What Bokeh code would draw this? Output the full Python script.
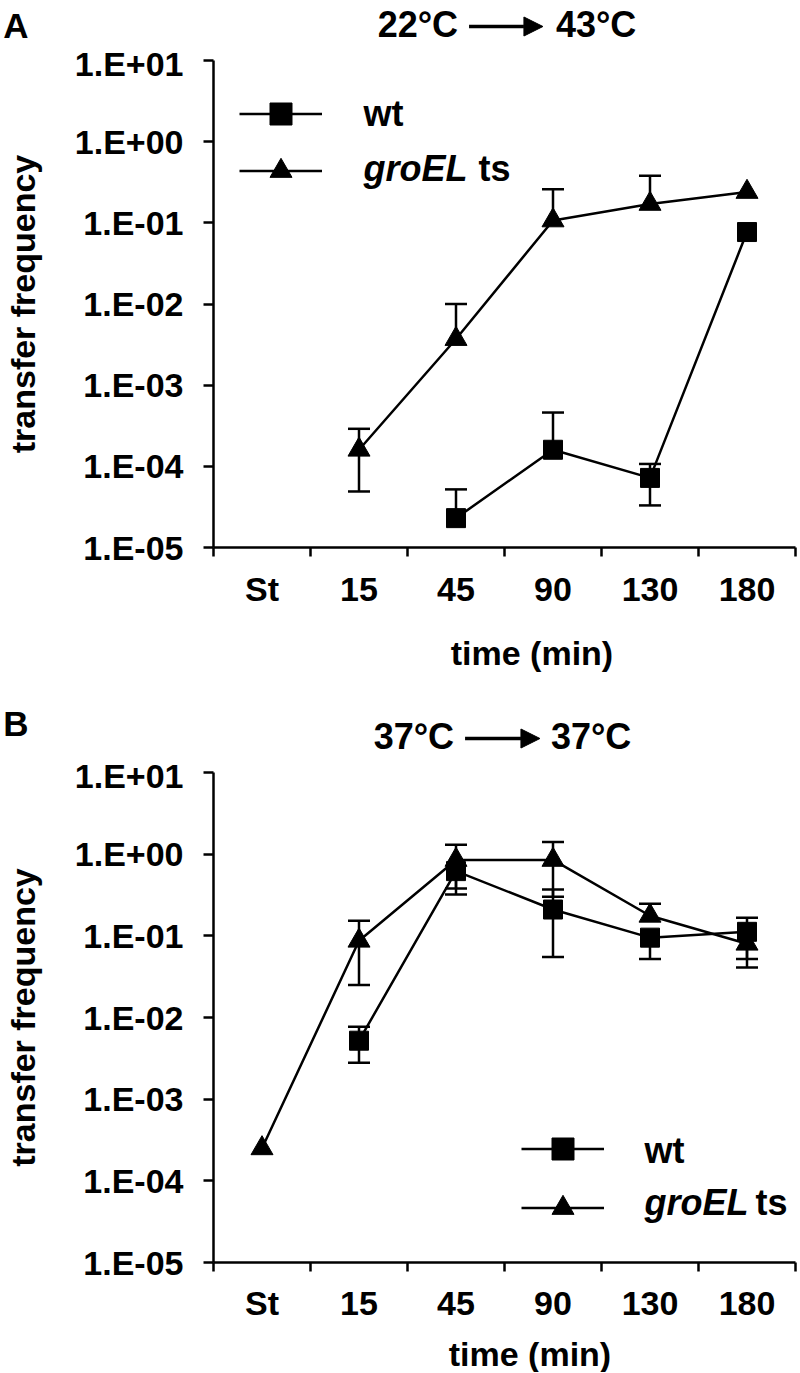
import numpy as np
from bokeh.plotting import figure
from bokeh.models import (ColumnDataSource, Range1d, FactorRange, LinearAxis, LogAxis, FixedTicker,
                          CustomJSTickFormatter, Whisker, TeeHead, Legend, LegendItem, Label, Arrow, NormalHead)
from bokeh.layouts import column
from bokeh.embed import file_html
from bokeh.resources import INLINE

nan = float("nan")

# ---------------- data ----------------
categories = ["St", "15", "45", "90", "130", "180"]
ytick_values = [1e-5, 1e-4, 1e-3, 1e-2, 1e-1, 1e0, 1e1]
ytick_labels = ["1.E-05", "1.E-04", "1.E-03", "1.E-02", "1.E-01", "1.E+00", "1.E+01"]
series_names = ["wt", "groEL", "ts"]

# Panel A: 22°C -> 43°C
a_wt = [nan, nan, 2.3e-5, 1.6e-4, 7.2e-5, 7.7e-2]
a_wt_hi = [nan, nan, 5.2e-5, 4.6e-4, 1.07e-4, nan]
a_wt_lo = [nan, nan, nan, nan, 3.3e-5, nan]
a_gro = [nan, 1.6e-4, 3.7e-3, 0.107, 0.171, 0.24]
a_gro_hi = [nan, 2.9e-4, 1.0e-2, 0.26, 0.38, nan]
a_gro_lo = [nan, 4.9e-5, nan, nan, nan, nan]

# Panel B: 37°C -> 37°C
b_wt = [nan, 5.2e-3, 0.62, 0.21, 0.095, 0.112]
b_wt_hi = [nan, 7.7e-3, nan, 0.37, nan, 0.166]
b_wt_lo = [nan, 2.8e-3, 0.38, 0.055, 0.052, 0.052]
b_gro = [2.5e-4, 0.087, 0.85, 0.85, 0.176, 0.080]
b_gro_hi = [nan, 0.153, 1.30, 1.41, 0.247, nan]
b_gro_lo = [nan, 0.025, 0.32, 0.30, nan, 0.041]

FONT = "Liberation Sans"
FS = "34px"
LW = 2.5
W = 800
FRAME_LEFT = 212
FRAME_RIGHT = 795


def strip_fig(h):
    # text strip whose data coordinates equal page pixels (x) and pixels from the strip top (y)
    f = figure(width=W, height=h, x_range=Range1d(FRAME_LEFT, FRAME_RIGHT), y_range=Range1d(h, 0),
               x_axis_location=None, y_axis_location=None,
               min_border_left=FRAME_LEFT, min_border_right=W - FRAME_RIGHT, min_border_top=0, min_border_bottom=0,
               output_backend="svg", toolbar_location=None)
    f.outline_line_color = None
    f.xgrid.grid_line_color = None
    f.ygrid.grid_line_color = None
    return f


def text(f, s, x, y, size, align="left", style="bold"):
    f.add_layout(Label(x=x, y=y, text=s, text_font=FONT, text_font_size=size, text_font_style=style,
                       text_color="black", text_align=align, text_baseline="middle"))


def header(h, letter, letter_y, t_from, t_to, title_y, arrow_y, a0, a1):
    f = strip_fig(h)
    # panel letter sits in the left margin
    lax = LinearAxis(ticker=FixedTicker(ticks=[letter_y], minor_ticks=[]),
                     formatter=CustomJSTickFormatter(args=dict(t=letter), code="return t;"))
    lax.axis_line_color = None
    lax.major_tick_line_color = None
    lax.minor_tick_line_color = None
    lax.major_tick_out = 0
    lax.major_tick_in = 0
    lax.major_label_standoff = 185
    lax.major_label_text_font = FONT
    lax.major_label_text_font_size = "35px"
    lax.major_label_text_font_style = "bold"
    lax.major_label_text_color = "black"
    f.add_layout(lax, "left")
    text(f, t_from[0], t_from[1], title_y, "36px", align="right")
    text(f, t_to[0], t_to[1], title_y, "36px", align="left")
    f.add_layout(Arrow(x_start=a0, y_start=arrow_y, x_end=a1, y_end=arrow_y,
                       line_width=3.5, line_color="black", start=None,
                       end=NormalHead(size=19, fill_color="black", line_color="black", line_width=1)))
    return f


def footer(h, x, y):
    f = strip_fig(h)
    text(f, "time (min)", x, y, FS, align="center")
    return f


def add_err(p, vals, ends, upper_side):
    rows = [(c, v, e) for c, v, e in zip(categories, vals, ends) if not np.isnan(e) and not np.isnan(v)]
    if not rows:
        return
    xs = [r[0] for r in rows]
    vs = [r[1] for r in rows]
    es = [r[2] for r in rows]
    head = TeeHead(size=22, line_width=LW, line_color="black")
    if upper_side:
        w = Whisker(source=ColumnDataSource(dict(x=xs, lower=vs, upper=es)), base="x", lower="lower",
                    upper="upper", upper_head=head, lower_head=None, line_width=LW, line_color="black")
    else:
        w = Whisker(source=ColumnDataSource(dict(x=xs, lower=es, upper=vs)), base="x", lower="lower",
                    upper="upper", lower_head=head, upper_head=None, line_width=LW, line_color="black")
    p.add_layout(w)


def make_panel(height, border_top, frame_h, frame_bottom_page, x_standoff,
               wt, wt_hi, wt_lo, gro, gro_hi, gro_lo, leg_left, leg_bottom, leg_spacing,
               wt_y, gro_y, leg_text_x, ts_x):
    n = len(categories)
    p = figure(width=W, height=height,
               x_range=FactorRange(factors=categories, range_padding=0, factor_padding=0),
               y_range=Range1d(1e-5, 1e1), y_axis_type="log",
               x_axis_location=None, y_axis_location=None,
               output_backend="svg", toolbar_location=None,
               min_border_left=FRAME_LEFT, min_border_right=W - FRAME_RIGHT,
               min_border_top=border_top, min_border_bottom=height - border_top - frame_h)
    p.outline_line_color = None
    p.xgrid.grid_line_color = None
    p.ygrid.grid_line_color = None

    def sx(px):
        return px - FRAME_LEFT

    def sy(py):
        return frame_bottom_page - py

    yaxis = LogAxis(ticker=FixedTicker(ticks=ytick_values, minor_ticks=[]),
                    formatter=CustomJSTickFormatter(args=dict(vals=ytick_values, labs=ytick_labels), code="""
                        for (let i = 0; i < vals.length; i++) {
                            if (Math.abs(Math.log10(tick) - Math.log10(vals[i])) < 1e-6) return labs[i];
                        }
                        return '';"""),
                    axis_label="transfer frequency")
    yaxis.axis_line_width = LW
    yaxis.axis_line_color = "black"
    yaxis.major_tick_out = 10
    yaxis.major_tick_in = 0
    yaxis.major_tick_line_width = LW
    yaxis.major_tick_line_color = "black"
    yaxis.minor_tick_line_color = None
    yaxis.major_label_text_font = FONT
    yaxis.major_label_text_font_size = FS
    yaxis.major_label_text_font_style = "bold"
    yaxis.major_label_text_color = "black"
    yaxis.major_label_standoff = 20
    yaxis.axis_label_text_font = FONT
    yaxis.axis_label_text_font_size = FS
    yaxis.axis_label_text_font_style = "bold"
    yaxis.axis_label_text_color = "black"
    yaxis.axis_label_standoff = 30
    p.add_layout(yaxis, "left")

    # category labels at centres, tick marks at the category boundaries
    xaxis = LinearAxis(ticker=FixedTicker(ticks=[i + 0.5 for i in range(n)], minor_ticks=list(range(n + 1))),
                       formatter=CustomJSTickFormatter(args=dict(cats=categories),
                                                       code="return cats[Math.floor(tick)];"))
    xaxis.axis_line_width = LW
    xaxis.axis_line_color = "black"
    xaxis.major_tick_line_color = None
    xaxis.major_tick_out = 0
    xaxis.major_tick_in = 0
    xaxis.minor_tick_out = 9
    xaxis.minor_tick_in = 0
    xaxis.minor_tick_line_width = LW
    xaxis.minor_tick_line_color = "black"
    xaxis.major_label_text_font = FONT
    xaxis.major_label_text_font_size = FS
    xaxis.major_label_text_font_style = "bold"
    xaxis.major_label_text_color = "black"
    xaxis.major_label_standoff = x_standoff
    p.add_layout(xaxis, "below")

    add_err(p, wt, wt_hi, True)
    add_err(p, wt, wt_lo, False)
    add_err(p, gro, gro_hi, True)
    add_err(p, gro, gro_lo, False)

    src = ColumnDataSource(dict(x=categories, wt=wt, gro=gro))
    l_wt = p.line("x", "wt", source=src, line_width=LW, line_color="black")
    m_wt = p.scatter("x", "wt", source=src, marker="square", size=19, fill_color="black", line_color="black")
    l_gro = p.line("x", "gro", source=src, line_width=LW, line_color="black")
    m_gro = p.scatter("x", "gro", source=src, marker="triangle", size=22, fill_color="black", line_color="black")

    legend = Legend(items=[LegendItem(label=" ", renderers=[l_wt, m_wt]),
                           LegendItem(label=" ", renderers=[l_gro, m_gro])],
                    location=(sx(leg_left), sy(leg_bottom)),
                    glyph_width=83, glyph_height=55, spacing=leg_spacing, padding=0, margin=0,
                    label_standoff=0, label_width=0, label_height=0, label_text_font_size="1px",
                    border_line_color=None, background_fill_alpha=0)
    p.add_layout(legend)

    def lab(s, x, y, style="bold"):
        p.add_layout(Label(x=x, y=y, x_units="screen", y_units="screen", text=s,
                           text_font=FONT, text_font_size="36px", text_font_style=style,
                           text_color="black", text_align="left", text_baseline="middle"))

    lab(series_names[0], sx(leg_text_x), sy(wt_y))
    lab(series_names[1], sx(leg_text_x), sy(gro_y), style="bold italic")
    lab(series_names[2], sx(ts_x), sy(gro_y))
    return p


# page rows: header A 0-44, plot A 44-618, footer A 618-698, header B 698-756, plot B 756-1330, footer B 1330-1372
hA = header(44, "A", 14, ("22°C", 457), ("43°C", 555), 24, 26, 468, 542)
pA = make_panel(height=574, border_top=16, frame_h=487, frame_bottom_page=547, x_standoff=13,
                wt=a_wt, wt_hi=a_wt_hi, wt_lo=a_wt_lo, gro=a_gro, gro_hi=a_gro_hi, gro_lo=a_gro_lo,
                leg_left=238, leg_bottom=198, leg_spacing=2,
                wt_y=112.5, gro_y=168, leg_text_x=362, ts_x=477)
fA = footer(80, 531, 34)

hB = header(58, "B", 25, ("37°C", 453), ("37°C", 550), 37.5, 40, 464, 539)
pB = make_panel(height=574, border_top=16, frame_h=490, frame_bottom_page=1262, x_standoff=12,
                wt=b_wt, wt_hi=b_wt_hi, wt_lo=b_wt_lo, gro=b_gro, gro_hi=b_gro_hi, gro_lo=b_gro_lo,
                leg_left=520, leg_bottom=1235, leg_spacing=4,
                wt_y=1149.5, gro_y=1202, leg_text_x=643, ts_x=754)
fB = footer(42, 529, 23)

layout = column(hA, pA, fA, hB, pB, fB, spacing=0)
open("out.html", "w").write(file_html(layout, INLINE))
